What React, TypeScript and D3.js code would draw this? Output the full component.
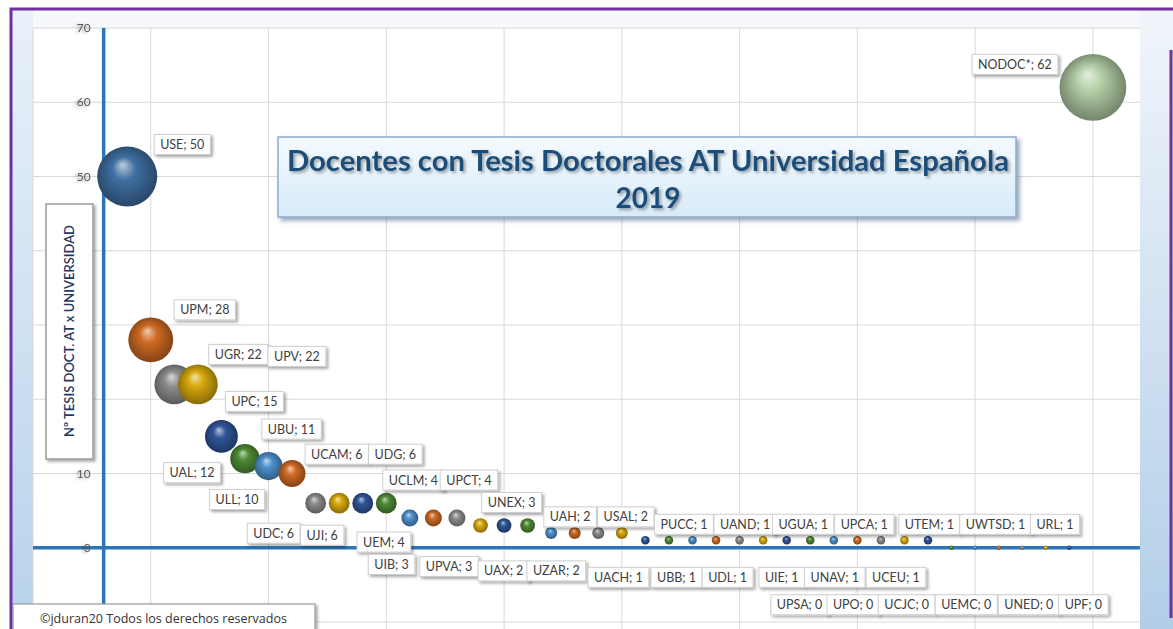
import React from 'react';
import * as d3 from 'd3';

// universidades, en el orden del eje X (1..42)
const universities = [
  'USE', 'UPM', 'UGR', 'UPV', 'UPC', 'UAL', 'UBU', 'ULL',
  'UDC', 'UJI', 'UCAM', 'UDG', 'UEM', 'UCLM', 'UPCT',
  'UIB', 'UPVA', 'UNEX', 'UAH', 'UAX', 'UZAR', 'USAL',
  'UACH', 'PUCC', 'UBB', 'UAND', 'UDL', 'UGUA', 'UIE', 'UPCA', 'UNAV', 'UTEM', 'UCEU', 'UWTSD', 'URL',
  'UPSA', 'UPO', 'UCJC', 'UEMC', 'UNED', 'UPF',
  'NODOC*',
];

// nº de tesis doctorales (también tamaño de la burbuja)
const theses = [
  50, 28, 22, 22, 15, 12, 11, 10,
  6, 6, 6, 6, 4, 4, 4,
  3, 3, 3, 2, 2, 2, 2,
  1, 1, 1, 1, 1, 1, 1, 1, 1, 1, 1, 1, 1,
  0, 0, 0, 0, 0, 0,
  62,
];

// posición de cada etiqueta respecto al centro de su burbuja (px)
const labelOffsets = [
  [55, -32], [54, -30], [64, -30], [99, -28], [33, -35], [-53, 14], [23, -37], [-55, 26],
  [-42, 30], [-17, 32], [-26, -49], [9, -49], [-26, 24], [-20, -38], [12, -38],
  [-89, 39], [-55, 41], [-16, -23], [19, -16], [-71, 38], [-42, 38], [4, -16],
  [-27, 37], [15, -16], [-16, 37], [29, -16], [-12, 37], [40, -16], [-5, 37], [54, -16], [1, 37], [72, -16], [15, 37], [91, -16], [127, -16],
  [-152, 57], [-122, 57], [-92, 57], [-56, 57], [-17, 57], [14, 57],
  [-78, -23],
];

// paleta de Excel (ciclo de 6) + colores especiales
const palette = ['#4d90cc', '#cf6a24', '#8c8c8c', '#d6a80c', '#2f5597', '#4e8a34'];
const specialColors: Record<string, string> = { 'USE': '#3f6fa2', 'NODOC*': '#b3cea6' };

const W = 1173;
const H = 629;
const plot = { left: 33, right: 1140, top: 28, bottom: 622 };

const x = d3.scaleLinear().domain([-3, 44]).range([plot.left, plot.right]);
const y = d3.scaleLinear().domain([-10, 70]).range([plot.bottom, plot.top]);
const r = d3.scaleSqrt().domain([0, 50]).range([0, 30]);

const LABEL_FONT = '12.5px Lato';
let measureCtx: CanvasRenderingContext2D | null = null;
function textWidth(s: string, font: string) {
  if (!measureCtx) measureCtx = document.createElement('canvas').getContext('2d');
  if (!measureCtx) return s.length * 7;
  measureCtx.font = font;
  return measureCtx.measureText(s).width;
}

export default function App() {
  const points = universities.map((name, i) => ({
    name,
    value: theses[i],
    idx: i + 1,
    color: specialColors[name] || palette[i % 6],
  }));

  const xGrid = d3.range(-3, 45, 5);
  const yGrid = d3.range(-10, 71, 10);
  const yTicks = y.ticks(8).filter((t) => t >= 0);

  return (
    <svg width={W} height={H} style={{ position: 'absolute', left: 0, top: 0, fontFamily: 'Lato, sans-serif' }}>
      <defs>
        <filter id="shadow" x="-20%" y="-30%" width="150%" height="180%">
          <feDropShadow dx="2" dy="2" stdDeviation="1.4" floodColor="#000" floodOpacity="0.35" />
        </filter>
        <filter id="bigShadow" x="-10%" y="-20%" width="130%" height="150%">
          <feDropShadow dx="3" dy="3" stdDeviation="2" floodColor="#1f3864" floodOpacity="0.45" />
        </filter>
        <filter id="textShadow" x="-30%" y="-50%" width="180%" height="200%">
          <feDropShadow dx="-2" dy="1" stdDeviation="1.5" floodColor="#000" floodOpacity="0.35" />
        </filter>
        <filter id="glow" x="-10%" y="-10%" width="120%" height="120%">
          <feGaussianBlur stdDeviation="2" />
        </filter>
        <linearGradient id="leftStrip" x1="0" y1="0" x2="0" y2="1">
          <stop offset="0" stopColor="#e9f1fa" />
          <stop offset="1" stopColor="#b7d2eb" />
        </linearGradient>
        <linearGradient id="rightStrip" x1="0" y1="0" x2="0" y2="1">
          <stop offset="0" stopColor="#f1f5fb" />
          <stop offset="1" stopColor="#b2cee8" />
        </linearGradient>
        <linearGradient id="titleFill" x1="0" y1="0" x2="0" y2="1">
          <stop offset="0" stopColor="#f4faff" />
          <stop offset="1" stopColor="#d7ebf8" />
        </linearGradient>
        {points.map((p, i) => {
          const c = d3.color(p.color)!;
          return (
            <radialGradient key={i} id={`ball${i}`} cx="50%" cy="50%" r="55%" fx="42%" fy="30%">
              <stop offset="0" stopColor={d3.interpolateRgb(p.color, '#ffffff')(0.65)} />
              <stop offset="0.35" stopColor={p.color} />
              <stop offset="0.8" stopColor={c.darker(0.9).formatHex()} />
              <stop offset="1" stopColor={c.darker(1.4).formatHex()} />
            </radialGradient>
          );
        })}
      </defs>

      {/* fondo */}
      <rect x={0} y={0} width={W} height={H} fill="#ffffff" />
      <rect x={12} y={10} width={W - 12} height={plot.top - 10} fill="#f6f8fb" />
      <rect x={12} y={10} width={plot.left - 12} height={H - 10} fill="url(#leftStrip)" />
      <rect x={plot.right} y={10} width={W - plot.right} height={H - 10} fill="url(#rightStrip)" />
      <rect x={plot.left} y={plot.top} width={plot.right - plot.left} height={plot.bottom - plot.top + 10} fill="#ffffff" />
      <path d={`M11,${H} V9 H${W}`} fill="none" stroke="#7030a0" strokeWidth={3} />
      <line x1={1171} x2={1171} y1={50} y2={618} stroke="#7030a0" strokeWidth={3} />

      {/* rejilla */}
      <g stroke="#d9d9d9" strokeWidth={1}>
        {yGrid.map((t) => (
          <line key={`h${t}`} x1={plot.left} x2={plot.right} y1={y(t)} y2={y(t)} />
        ))}
        {xGrid.map((t) => (
          <line key={`v${t}`} x1={x(t)} x2={x(t)} y1={plot.top} y2={H} />
        ))}
      </g>

      {/* ejes */}
      <g>
        <line x1={x(0)} x2={x(0)} y1={plot.top} y2={H} stroke="#9dc3e6" strokeWidth={8} filter="url(#glow)" />
        <line x1={plot.left} x2={plot.right} y1={y(0)} y2={y(0)} stroke="#9dc3e6" strokeWidth={8} filter="url(#glow)" />
        <line x1={x(0)} x2={x(0)} y1={plot.top} y2={H} stroke="#2e75b6" strokeWidth={3.5} />
        <line x1={plot.left} x2={plot.right} y1={y(0)} y2={y(0)} stroke="#2e75b6" strokeWidth={3.5} />
      </g>

      {/* etiquetas eje Y */}
      <g fontSize={12} fill="#595959" textAnchor="end">
        {yTicks.map((t) => (
          <text key={t} x={x(0) - 13} y={y(t) + 4} filter="url(#textShadow)">{t}</text>
        ))}
      </g>

      {/* burbujas */}
      <g>
        {points.map((p, i) => (
          <circle
            key={p.name}
            cx={x(p.idx)}
            cy={y(p.value)}
            r={p.value === 0 ? 2.2 : r(p.value)}
            fill={`url(#ball${i})`}
          />
        ))}
      </g>

      {/* etiquetas de datos */}
      <g fontSize={12.5} fill="#404040">
        {points.map((p, i) => {
          const label = `${p.name}; ${p.value}`;
          const w = textWidth(label, LABEL_FONT) + 12;
          const cx = x(p.idx) + labelOffsets[i][0];
          const cy = y(p.value) + labelOffsets[i][1];
          return (
            <g key={p.name}>
              <rect x={cx - w / 2} y={cy - 10} width={w} height={20} fill="#ffffff" stroke="#cfcfcf" strokeWidth={1} filter="url(#shadow)" />
              <text x={cx} y={cy + 4.5} textAnchor="middle">{label}</text>
            </g>
          );
        })}
      </g>

      {/* título eje Y */}
      <g>
        <rect x={46} y={204} width={47} height={255} fill="#ffffff" stroke="#9a9a9a" strokeWidth={1.5} filter="url(#shadow)" />
        <text
          transform="translate(74,331) rotate(-90)"
          textAnchor="middle"
          fontSize={13}
          fontWeight={600}
          fill="#1f3864"
        >
          Nº TESIS DOCT. AT x UNIVERSIDAD
        </text>
      </g>

      {/* título */}
      <g>
        <rect x={278} y={137} width={738} height={80} fill="url(#titleFill)" stroke="#8eaacc" strokeWidth={1.5} filter="url(#bigShadow)" />
        <text x={648} y={171} textAnchor="middle" fontSize={28} fontWeight={700} fill="#1f4e79"
          textLength={722} lengthAdjust="spacingAndGlyphs" filter="url(#shadow)">
          Docentes con Tesis Doctorales AT Universidad Española
        </text>
        <text x={648} y={208} textAnchor="middle" fontSize={28} fontWeight={700} fill="#1f4e79" filter="url(#shadow)">
          2019
        </text>
      </g>

      {/* copyright */}
      <g>
        <rect x={13} y={604} width={302} height={30} fill="#ffffff" stroke="#9a9a9a" strokeWidth={1.2} filter="url(#shadow)" />
        <text x={40} y={623} fontSize={12} fill="#333333" fontFamily="'Open Sans', sans-serif"
          textLength={247} lengthAdjust="spacingAndGlyphs">
          ©jduran20 Todos los derechos reservados
        </text>
      </g>
    </svg>
  );
}
